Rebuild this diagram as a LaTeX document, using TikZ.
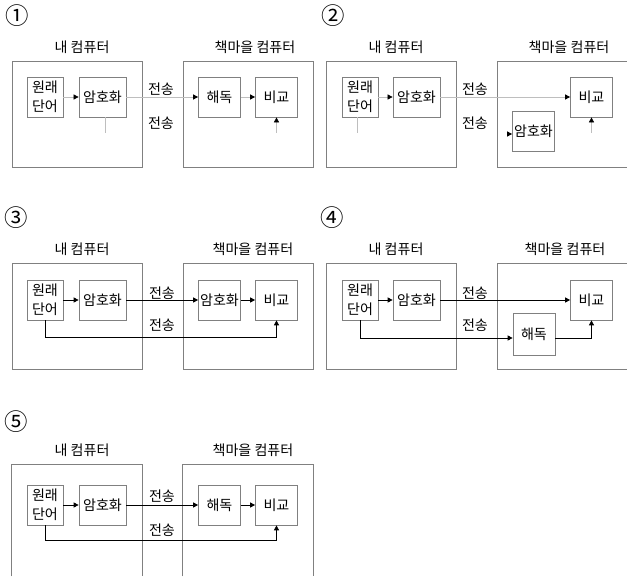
\documentclass[tikz,border=0pt]{standalone}
\usepackage{fontspec}
\setmainfont{Noto Sans CJK KR}
\usepackage{tikz}
\usetikzlibrary{arrows.meta,positioning,calc}
\definecolor{kcframe}{HTML}{808080}
\definecolor{kcfaint}{HTML}{BEBEBE}
\begin{document}
\begin{tikzpicture}[font=\fontsize{12}{16}\selectfont,
 pcbox/.style={draw=kcframe,line width=0.7pt,minimum width=3.9cm,minimum height=3.18cm,inner sep=0pt},
 unitbox/.style={draw=kcframe,line width=0.6pt,minimum height=1.2cm,inner sep=0.5pt,align=center},
 faintline/.style={draw=kcfaint,line width=0.6pt},
 darkline/.style={draw=black,line width=0.7pt},
 headto/.style={-{Triangle[length=1.5mm,width=1.5mm,black]}},
 numlabel/.style={font=\fontsize{20}{20}\selectfont}]
\useasboundingbox (0,0) rectangle (18.81,-17.28);
% (1) decrypt, then compare
\begin{scope}[x=0.03cm,y=-0.03cm]
\node[numlabel] (no1) at (17,16) {①};
\node[pcbox] (mine1) at (77,114) {};
\node[pcbox] (peer1) at (248,114) {};
\node (tmine1) at (82,47) {내 컴퓨터};
\node (tpeer1) at (255,47) {책마을 컴퓨터};
\node[unitbox,minimum width=1.08cm] (src1) at (45,97) {원래\\단어};
\node[unitbox,minimum width=1.41cm] (enc1) at (102.5,97) {암호화};
\node[unitbox,minimum width=1.26cm] (dec1) at (219.5,97) {해독};
\node[unitbox,minimum width=1.26cm] (cmp1) at (276.5,97) {비교};
\node (up1) at (161,89) {전송};
\node (lo1) at (161,123) {전송};
\coordinate (cut1) at (105,133);
\coordinate (feed1) at (276.5,133);
\draw[faintline,headto] (src1) -- (enc1);
\draw[faintline,headto] (enc1) -- (dec1);
\draw[faintline,headto] (dec1) -- (cmp1);
\draw[faintline] (enc1.south -| cut1) -- (cut1);
\draw[faintline,headto] (feed1) -- (cmp1.south);
\end{scope}
% (2) encrypt again on the other side
\begin{scope}[xshift=9.42cm,x=0.03cm,y=-0.03cm]
\node[numlabel] (no2) at (19,16) {②};
\node[pcbox] (mine2) at (77,114) {};
\node[pcbox] (peer2) at (248,114) {};
\node (tmine2) at (82,47) {내 컴퓨터};
\node (tpeer2) at (255,47) {책마을 컴퓨터};
\node[unitbox,minimum width=1.08cm] (src2) at (46,97) {원래\\단어};
\node[unitbox,minimum width=1.41cm] (enc2) at (102.5,97) {암호화};
\node[unitbox,minimum width=1.26cm] (cmp2) at (277.5,97) {비교};
\node[unitbox,minimum width=1.26cm] (hid2) at (219.5,131) {암호화};
\node (up2) at (161,89) {전송};
\node (lo2) at (161,123) {전송};
\coordinate (cut2) at (43,133);
\coordinate (in2) at (193,134);
\coordinate (feed2) at (277.5,133);
\draw[faintline,headto] (src2) -- (enc2);
\draw[faintline,headto] (enc2) -- (cmp2);
\draw[faintline] (src2.south -| cut2) -- (cut2);
\draw[faintline,headto] (in2) -- (in2 -| hid2.west);
\draw[faintline,headto] (feed2) -- (cmp2.south);
\end{scope}
% (3) both sides encrypt
\begin{scope}[yshift=-6.06cm,x=0.03cm,y=-0.03cm]
\node[numlabel] (no3) at (16,16) {③};
\node[pcbox] (mine3) at (77,114) {};
\node[pcbox] (peer3) at (248,114) {};
\node (tmine3) at (82,47) {내 컴퓨터};
\node (tpeer3) at (253,47) {책마을 컴퓨터};
\node[unitbox,minimum width=1.08cm] (src3) at (45,98) {원래\\단어};
\node[unitbox,minimum width=1.41cm] (enc3) at (102.5,98) {암호화};
\node[unitbox,minimum width=1.26cm] (dec3) at (219.5,98) {암호화};
\node[unitbox,minimum width=1.26cm] (cmp3) at (276.5,98) {비교};
\node (up3) at (162,91) {전송};
\node (lo3) at (162,123) {전송};
\coordinate (row3) at (0,135);
\draw[darkline,headto] (src3) -- (enc3);
\draw[darkline,headto] (enc3) -- (dec3);
\draw[darkline,headto] (dec3) -- (cmp3);
\draw[darkline,headto] (src3.south) -- (src3.south |- row3) -| (cmp3.south);
\end{scope}
% (4) decrypt the word, then compare
\begin{scope}[xshift=9.42cm,yshift=-6.06cm,x=0.03cm,y=-0.03cm]
\node[numlabel] (no4) at (18,16) {④};
\node[pcbox] (mine4) at (77,114) {};
\node[pcbox] (peer4) at (248,114) {};
\node (tmine4) at (82,47) {내 컴퓨터};
\node (tpeer4) at (251,47) {책마을 컴퓨터};
\node[unitbox,minimum width=1.08cm] (src4) at (46,98) {원래\\단어};
\node[unitbox,minimum width=1.41cm] (enc4) at (102.5,98) {암호화};
\node[unitbox,minimum width=1.26cm] (cmp4) at (277.5,98) {비교};
\node[unitbox,minimum width=1.26cm,minimum height=1.26cm] (dec4) at (220,132) {해독};
\node (up4) at (161,91) {전송};
\node (lo4) at (161,123) {전송};
\coordinate (row4) at (0,136);
\draw[darkline,headto] (src4) -- (enc4);
\draw[darkline,headto] (enc4) -- (cmp4);
\draw[darkline,headto] (src4.south) -- (src4.south |- row4) -- (row4 -| dec4.west);
\draw[darkline,headto] (row4 -| dec4.east) -| (cmp4.south);
\end{scope}
% (5) decrypt, then compare with the word
\begin{scope}[yshift=-12.12cm,x=0.03cm,y=-0.03cm]
\node[numlabel] (no5) at (16,18) {⑤};
\node[pcbox,draw=none,minimum height=3.33cm] (mine5) at (77,116.5) {};
\node[pcbox,draw=none,minimum height=3.33cm] (peer5) at (248,116.5) {};
\draw[kcframe,line width=0.7pt] (mine5.south west) |- (mine5.north east) -- (mine5.south east);
\draw[kcframe,line width=0.7pt] (peer5.south west) |- (peer5.north east) -- (peer5.south east);
\node (tmine5) at (82,46) {내 컴퓨터};
\node (tpeer5) at (253,46) {책마을 컴퓨터};
\node[unitbox,minimum width=1.08cm] (src5) at (45,101) {원래\\단어};
\node[unitbox,minimum width=1.41cm] (enc5) at (102.5,101) {암호화};
\node[unitbox,minimum width=1.26cm] (dec5) at (219.5,101) {해독};
\node[unitbox,minimum width=1.26cm] (cmp5) at (276.5,101) {비교};
\node (up5) at (162,92) {전송};
\node (lo5) at (162,126) {전송};
\coordinate (row5) at (0,136);
\draw[darkline,headto] (src5) -- (enc5);
\draw[darkline,headto] (enc5) -- (dec5);
\draw[darkline,headto] (dec5) -- (cmp5);
\draw[darkline,headto] (src5.south) -- (src5.south |- row5) -| (cmp5.south);
\end{scope}
\end{tikzpicture}
\end{document}
